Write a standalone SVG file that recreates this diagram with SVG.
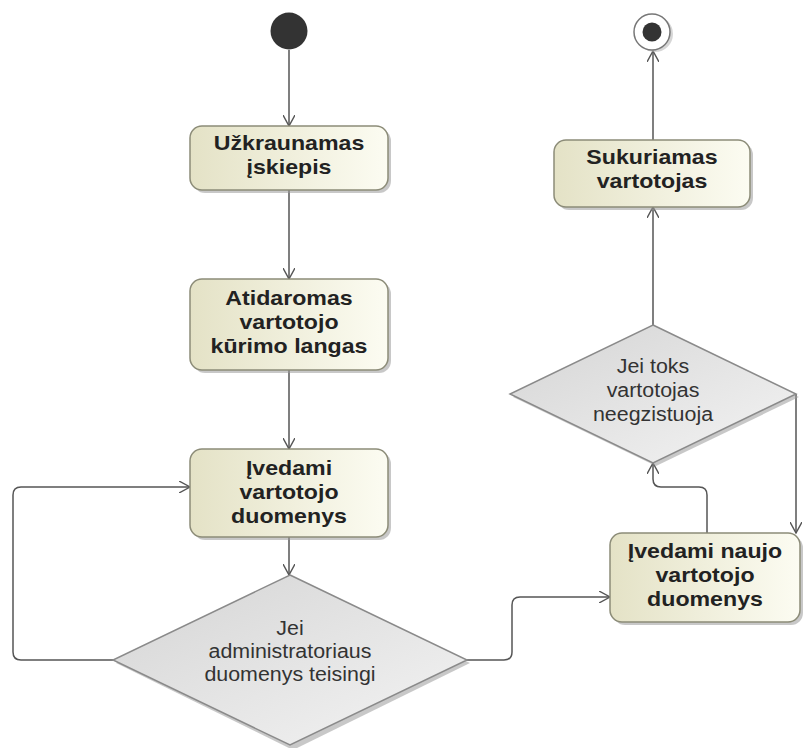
<svg xmlns="http://www.w3.org/2000/svg" width="803" height="748" viewBox="0 0 803 748">
  <defs>
    <linearGradient id="actFill" x1="0" y1="0" x2="1" y2="0">
      <stop offset="0" stop-color="#e4e2c6"/>
      <stop offset="1" stop-color="#fcfcf2"/>
    </linearGradient>
    <linearGradient id="decFill" x1="0" y1="0" x2="1" y2="1">
      <stop offset="0" stop-color="#d4d4d4"/>
      <stop offset="1" stop-color="#f4f4f4"/>
    </linearGradient>
    <marker id="open" viewBox="0 0 12 12" refX="11" refY="6" markerWidth="12" markerHeight="12" markerUnits="userSpaceOnUse" orient="auto">
      <path d="M0,0 L11,6 L0,12" fill="none" stroke="#555" stroke-width="1.4"/>
    </marker>
  </defs>
  <style>
    .act { fill: url(#actFill); stroke: #8c8c78; stroke-width: 1.5; }
    .shadow { fill: #9a9a9a; opacity: 0.55; }
    .dec { fill: url(#decFill); stroke: #8a8a8a; stroke-width: 1.5; }
    .bt { font-family: "Liberation Sans", Arial, sans-serif; font-size: 20.5px; font-weight: bold; fill: #222; text-anchor: middle; }
    .dt { font-family: "Liberation Sans", Arial, sans-serif; font-size: 20px; fill: #333; text-anchor: middle; }
    .edge { fill: none; stroke: #555; stroke-width: 1.5; marker-end: url(#open); }
  </style>
  <rect width="803" height="748" fill="#ffffff"/>

  <!-- connectors -->
  <g id="connectors">
    <path class="edge" d="M289,50 V126"/>
    <path class="edge" d="M289,190 V279"/>
    <path class="edge" d="M289,370 V449"/>
    <path class="edge" d="M289,537 V575"/>
    <path class="edge" d="M113,660 H21 Q13,660 13,652 V495 Q13,487 21,487 H190"/>
    <path class="edge" d="M467,660 H504 Q512,660 512,652 V605 Q512,597 520,597 H610"/>
    <path class="edge" d="M707,533 V495 Q707,487 699,487 H661 Q653,487 653,479 V463"/>
    <path class="edge" d="M796,394 V533"/>
    <path class="edge" d="M653,325 V207"/>
    <path class="edge" d="M653,140 V51"/>
  </g>

  <!-- start -->
  <g id="start">
    <circle cx="289" cy="31" r="18.5" fill="#333"/>
  </g>

  <!-- end -->
  <g id="end">
    <circle cx="655" cy="34" r="18" fill="#bbb" opacity="0.6"/>
    <circle cx="652" cy="32" r="18" fill="#fff" stroke="#777" stroke-width="1.5"/>
    <circle cx="652" cy="32" r="9.5" fill="#333"/>
  </g>

  <g id="uzkraunamas">
    <rect class="shadow" x="193" y="129" width="198" height="64" rx="12"/>
    <rect class="act" x="190" y="126" width="198" height="64" rx="12"/>
    <g transform="translate(289 0) scale(1.13 1)">
      <text class="bt" x="0" y="150">Užkraunamas</text>
      <text class="bt" x="0" y="174">įskiepis</text>
    </g>
  </g>

  <g id="atidaromas">
    <rect class="shadow" x="193" y="282" width="198" height="91" rx="12"/>
    <rect class="act" x="190" y="279" width="198" height="91" rx="12"/>
    <g transform="translate(289 0) scale(1.13 1)">
      <text class="bt" x="0" y="305">Atidaromas</text>
      <text class="bt" x="0" y="329">vartotojo</text>
      <text class="bt" x="0" y="353">kūrimo langas</text>
    </g>
  </g>

  <g id="ivedami">
    <rect class="shadow" x="193" y="452" width="198" height="88" rx="12"/>
    <rect class="act" x="190" y="449" width="198" height="88" rx="12"/>
    <g transform="translate(289 0) scale(1.13 1)">
      <text class="bt" x="0" y="475">Įvedami</text>
      <text class="bt" x="0" y="499">vartotojo</text>
      <text class="bt" x="0" y="523">duomenys</text>
    </g>
  </g>

  <g id="admin-check">
    <polygon class="shadow" points="293,578 470,663 293,750 116,663"/>
    <polygon class="dec" points="290,575 467,660 290,745 113,660"/>
    <g transform="translate(290 0) scale(1.07 1)">
      <text class="dt" x="0" y="635">Jei</text>
      <text class="dt" x="0" y="658">administratoriaus</text>
      <text class="dt" x="0" y="681">duomenys teisingi</text>
    </g>
  </g>

  <g id="ivedami-naujo">
    <rect class="shadow" x="613" y="536" width="190" height="89" rx="12"/>
    <rect class="act" x="610" y="533" width="190" height="89" rx="12"/>
    <g transform="translate(705 0) scale(1.13 1)">
      <text class="bt" x="0" y="558">Įvedami naujo</text>
      <text class="bt" x="0" y="582">vartotojo</text>
      <text class="bt" x="0" y="606">duomenys</text>
    </g>
  </g>

  <g id="user-check">
    <polygon class="shadow" points="656,328 799,397 656,466 513,397"/>
    <polygon class="dec" points="653,325 796,394 653,463 510,394"/>
    <g transform="translate(653 0) scale(1.07 1)">
      <text class="dt" x="0" y="373">Jei toks</text>
      <text class="dt" x="0" y="397">vartotojas</text>
      <text class="dt" x="0" y="421">neegzistuoja</text>
    </g>
  </g>

  <g id="sukuriamas">
    <rect class="shadow" x="557" y="143" width="196" height="67" rx="12"/>
    <rect class="act" x="554" y="140" width="196" height="67" rx="12"/>
    <g transform="translate(652 0) scale(1.13 1)">
      <text class="bt" x="0" y="164">Sukuriamas</text>
      <text class="bt" x="0" y="188">vartotojas</text>
    </g>
  </g>
</svg>
